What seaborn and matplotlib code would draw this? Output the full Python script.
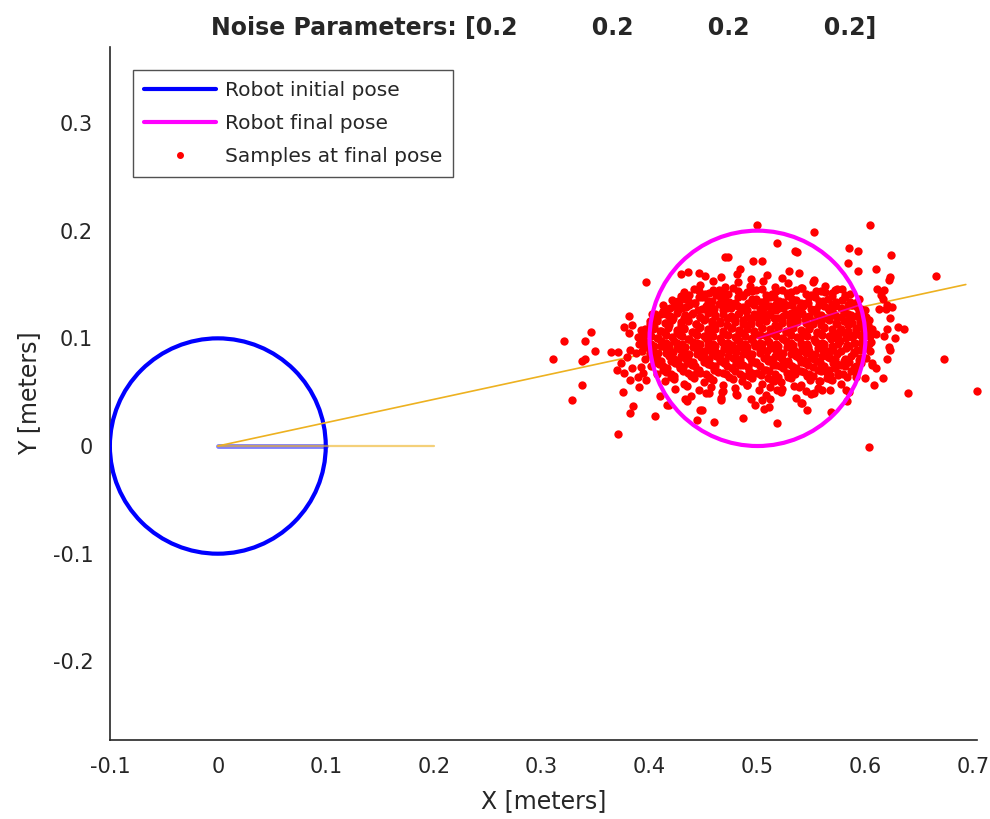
import matplotlib
matplotlib.use("Agg")
import matplotlib.pyplot as plt
from matplotlib.patches import Circle
from matplotlib.lines import Line2D
import pandas as pd
import seaborn as sns

# poses (x, y, radius) and headings
initial_pose = (0.0, 0.0, 0.1)
final_pose = (0.5, 0.1, 0.1)
initial_heading_x = [0.0, 0.1]
initial_heading_y = [0.0, 0.0]
motion_x = [0.0, 0.2]
motion_y = [0.0, 0.0]
path_x = [0.0, 0.693]
path_y = [0.0, 0.150]
final_heading_x = [0.5, 0.595]
final_heading_y = [0.1, 0.131]

noise_params = [0.2, 0.2, 0.2, 0.2]

# samples: scattered points first, then the dense core row by row
outer_samples = [
    (0.470, 0.176), (0.473, 0.176), (0.429, 0.160), (0.436, 0.162), (0.446, 0.161),
    (0.451, 0.158), (0.397, 0.152), (0.426, 0.135), (0.381, 0.121), (0.346, 0.106),
    (0.321, 0.098), (0.340, 0.098), (0.311, 0.081), (0.349, 0.088), (0.364, 0.087),
    (0.371, 0.087), (0.337, 0.079), (0.340, 0.081), (0.337, 0.057), (0.328, 0.043),
    (0.375, 0.050), (0.385, 0.037), (0.382, 0.031), (0.405, 0.028), (0.371, 0.011),
    (0.444, 0.024), (0.460, 0.022), (0.416, 0.038), (0.435, 0.042), (0.449, 0.033),
    (0.500, 0.205), (0.552, 0.199), (0.604, 0.205), (0.518, 0.189), (0.535, 0.181),
    (0.537, 0.180), (0.585, 0.184), (0.593, 0.181), (0.624, 0.177), (0.496, 0.172),
    (0.504, 0.172), (0.484, 0.164), (0.529, 0.163), (0.584, 0.170), (0.593, 0.163),
    (0.610, 0.164), (0.623, 0.157), (0.622, 0.154), (0.665, 0.158), (0.611, 0.146),
    (0.617, 0.145), (0.614, 0.140), (0.616, 0.137), (0.620, 0.131), (0.625, 0.129),
    (0.619, 0.127), (0.613, 0.127), (0.623, 0.119), (0.630, 0.111), (0.636, 0.109),
    (0.620, 0.109), (0.617, 0.102), (0.627, 0.100), (0.622, 0.092), (0.623, 0.089),
    (0.620, 0.081), (0.673, 0.081), (0.606, 0.075), (0.610, 0.072), (0.600, 0.063),
    (0.608, 0.057), (0.616, 0.063), (0.639, 0.049), (0.703, 0.051), (0.583, 0.042),
    (0.568, 0.032), (0.546, 0.033), (0.541, 0.040), (0.518, 0.021), (0.487, 0.026),
    (0.506, 0.034), (0.511, 0.036), (0.498, 0.038), (0.603, -0.001), (0.415, 0.123),
    (0.402, 0.123), (0.433, 0.044), (0.447, 0.033), (0.466, 0.043), (0.455, 0.049),
    (0.481, 0.047), (0.490, 0.057), (0.467, 0.050), (0.410, 0.046), (0.418, 0.038),
    (0.504, 0.043), (0.512, 0.044), (0.540, 0.040), (0.515, 0.060), (0.518, 0.052),
    (0.538, 0.055), (0.552, 0.049), (0.560, 0.052), (0.557, 0.060), (0.569, 0.061),
    (0.575, 0.066), (0.582, 0.052), (0.585, 0.050), (0.591, 0.064), (0.606, 0.077),
    (0.376, 0.111), (0.384, 0.112), (0.381, 0.105), (0.389, 0.101), (0.392, 0.108),
    (0.382, 0.089), (0.387, 0.086), (0.379, 0.083), (0.374, 0.077), (0.370, 0.071),
    (0.376, 0.068), (0.384, 0.072), (0.392, 0.073), (0.389, 0.064), (0.394, 0.068),
    (0.382, 0.061), (0.390, 0.055), (0.397, 0.061),
]

core_rows = [
    ([0.466, 0.481, 0.494, 0.509, 0.523, 0.538, 0.552],
     [0.157, 0.160, 0.155, 0.159, 0.156, 0.161, 0.154]),
    ([0.447, 0.459, 0.470, 0.482, 0.493, 0.505, 0.516, 0.528, 0.540, 0.551, 0.563, 0.574],
     [0.150, 0.153, 0.148, 0.152, 0.149, 0.153, 0.148, 0.151, 0.147, 0.152, 0.149, 0.146]),
    ([0.432, 0.441, 0.451, 0.459, 0.468, 0.477, 0.487, 0.495, 0.504, 0.513, 0.523, 0.531,
      0.541, 0.550, 0.559, 0.569, 0.578, 0.586],
     [0.143, 0.146, 0.141, 0.145, 0.142, 0.147, 0.140, 0.144, 0.146, 0.141, 0.145, 0.143,
      0.147, 0.140, 0.144, 0.142, 0.146, 0.141]),
    ([0.421, 0.429, 0.437, 0.446, 0.454, 0.462, 0.470, 0.479, 0.487, 0.495, 0.503, 0.512,
      0.520, 0.528, 0.536, 0.545, 0.553, 0.561, 0.569, 0.578, 0.586, 0.594],
     [0.136, 0.139, 0.134, 0.138, 0.135, 0.140, 0.136, 0.133, 0.139, 0.137, 0.134, 0.138,
      0.135, 0.139, 0.136, 0.133, 0.138, 0.135, 0.139, 0.136, 0.134, 0.137]),
    ([0.412, 0.419, 0.427, 0.434, 0.442, 0.449, 0.457, 0.464, 0.472, 0.479, 0.487, 0.494,
      0.502, 0.509, 0.517, 0.524, 0.532, 0.539, 0.547, 0.554, 0.562, 0.569, 0.577, 0.584,
      0.592, 0.600],
     [0.131, 0.128, 0.132, 0.129, 0.133, 0.127, 0.130, 0.132, 0.128, 0.131, 0.129, 0.133,
      0.127, 0.130, 0.132, 0.128, 0.131, 0.129, 0.133, 0.127, 0.130, 0.132, 0.128, 0.131,
      0.129, 0.126]),
    ([0.405, 0.412, 0.419, 0.426, 0.433, 0.440, 0.447, 0.454, 0.461, 0.468, 0.475, 0.482,
      0.489, 0.496, 0.503, 0.510, 0.517, 0.524, 0.531, 0.538, 0.545, 0.552, 0.559, 0.566,
      0.573, 0.580, 0.587, 0.594, 0.601],
     [0.123, 0.125, 0.121, 0.126, 0.122, 0.124, 0.120, 0.125, 0.122, 0.126, 0.121, 0.123,
      0.125, 0.120, 0.124, 0.122, 0.126, 0.121, 0.124, 0.123, 0.120, 0.125, 0.122, 0.126,
      0.121, 0.124, 0.122, 0.125, 0.120]),
    ([0.400, 0.407, 0.415, 0.422, 0.429, 0.436, 0.443, 0.451, 0.458, 0.465, 0.472, 0.479,
      0.487, 0.494, 0.501, 0.508, 0.515, 0.523, 0.530, 0.537, 0.544, 0.551, 0.559, 0.566,
      0.573, 0.580, 0.587, 0.595, 0.603],
     [0.116, 0.118, 0.114, 0.119, 0.115, 0.117, 0.113, 0.118, 0.116, 0.114, 0.119, 0.115,
      0.117, 0.113, 0.118, 0.116, 0.119, 0.114, 0.117, 0.115, 0.118, 0.113, 0.117, 0.119,
      0.114, 0.116, 0.118, 0.115, 0.117]),
    ([0.396, 0.404, 0.411, 0.418, 0.425, 0.432, 0.440, 0.447, 0.454, 0.461, 0.468, 0.476,
      0.483, 0.490, 0.497, 0.504, 0.512, 0.519, 0.526, 0.533, 0.540, 0.548, 0.555, 0.562,
      0.569, 0.576, 0.584, 0.591, 0.598, 0.606],
     [0.109, 0.111, 0.107, 0.112, 0.108, 0.110, 0.106, 0.111, 0.109, 0.112, 0.107, 0.110,
      0.108, 0.112, 0.106, 0.110, 0.109, 0.111, 0.107, 0.112, 0.108, 0.110, 0.106, 0.111,
      0.109, 0.107, 0.112, 0.108, 0.110, 0.109]),
    ([0.392, 0.399, 0.407, 0.414, 0.421, 0.428, 0.436, 0.443, 0.450, 0.457, 0.465, 0.472,
      0.479, 0.486, 0.494, 0.501, 0.508, 0.515, 0.523, 0.530, 0.537, 0.544, 0.552, 0.559,
      0.566, 0.573, 0.581, 0.588, 0.595, 0.603, 0.610],
     [0.102, 0.104, 0.100, 0.105, 0.101, 0.103, 0.099, 0.104, 0.102, 0.105, 0.100, 0.103,
      0.101, 0.105, 0.099, 0.103, 0.102, 0.104, 0.100, 0.105, 0.101, 0.103, 0.099, 0.104,
      0.102, 0.100, 0.105, 0.101, 0.103, 0.102, 0.104]),
    ([0.390, 0.397, 0.404, 0.411, 0.418, 0.425, 0.433, 0.440, 0.447, 0.454, 0.461, 0.468,
      0.476, 0.483, 0.490, 0.497, 0.504, 0.511, 0.519, 0.526, 0.533, 0.540, 0.547, 0.554,
      0.562, 0.569, 0.576, 0.583, 0.590, 0.597, 0.605],
     [0.095, 0.097, 0.093, 0.098, 0.094, 0.096, 0.092, 0.097, 0.095, 0.098, 0.093, 0.096,
      0.094, 0.098, 0.092, 0.096, 0.095, 0.097, 0.093, 0.098, 0.094, 0.096, 0.092, 0.097,
      0.095, 0.093, 0.098, 0.094, 0.096, 0.095, 0.097]),
    ([0.393, 0.400, 0.408, 0.415, 0.422, 0.429, 0.437, 0.444, 0.451, 0.458, 0.466, 0.473,
      0.480, 0.487, 0.495, 0.502, 0.509, 0.516, 0.524, 0.531, 0.538, 0.545, 0.553, 0.560,
      0.567, 0.574, 0.582, 0.589, 0.596, 0.604],
     [0.088, 0.090, 0.086, 0.091, 0.087, 0.089, 0.085, 0.090, 0.088, 0.091, 0.086, 0.089,
      0.087, 0.091, 0.085, 0.089, 0.088, 0.090, 0.086, 0.091, 0.087, 0.089, 0.085, 0.090,
      0.088, 0.086, 0.091, 0.087, 0.089, 0.088]),
    ([0.396, 0.404, 0.411, 0.418, 0.426, 0.433, 0.440, 0.448, 0.455, 0.462, 0.470, 0.477,
      0.484, 0.492, 0.499, 0.506, 0.514, 0.521, 0.528, 0.536, 0.543, 0.550, 0.558, 0.565,
      0.572, 0.580, 0.587, 0.594, 0.601],
     [0.081, 0.083, 0.079, 0.084, 0.080, 0.082, 0.078, 0.083, 0.081, 0.084, 0.079, 0.082,
      0.080, 0.084, 0.078, 0.082, 0.081, 0.083, 0.079, 0.084, 0.080, 0.082, 0.078, 0.083,
      0.081, 0.079, 0.084, 0.080, 0.082]),
    ([0.401, 0.409, 0.416, 0.424, 0.431, 0.439, 0.446, 0.454, 0.461, 0.469, 0.476, 0.484,
      0.491, 0.499, 0.506, 0.514, 0.521, 0.529, 0.536, 0.544, 0.551, 0.559, 0.566, 0.574,
      0.581, 0.589, 0.596],
     [0.074, 0.076, 0.072, 0.077, 0.073, 0.075, 0.071, 0.076, 0.074, 0.077, 0.072, 0.075,
      0.073, 0.077, 0.071, 0.075, 0.074, 0.076, 0.072, 0.077, 0.073, 0.075, 0.071, 0.076,
      0.074, 0.072, 0.077]),
    ([0.407, 0.415, 0.423, 0.431, 0.439, 0.447, 0.455, 0.463, 0.471, 0.479, 0.487, 0.495,
      0.503, 0.511, 0.519, 0.527, 0.535, 0.543, 0.551, 0.559, 0.567, 0.575, 0.583, 0.591],
     [0.067, 0.069, 0.065, 0.070, 0.066, 0.068, 0.064, 0.069, 0.067, 0.070, 0.065, 0.068,
      0.066, 0.070, 0.064, 0.068, 0.067, 0.069, 0.065, 0.070, 0.066, 0.068, 0.064, 0.069]),
    ([0.414, 0.423, 0.432, 0.441, 0.450, 0.459, 0.468, 0.477, 0.486, 0.495, 0.504, 0.513,
      0.522, 0.531, 0.540, 0.549, 0.558, 0.567, 0.577],
     [0.060, 0.062, 0.058, 0.063, 0.059, 0.061, 0.057, 0.062, 0.060, 0.063, 0.058, 0.061,
      0.059, 0.063, 0.057, 0.061, 0.060, 0.062, 0.058]),
    ([0.424, 0.435, 0.446, 0.457, 0.468, 0.479, 0.490, 0.501, 0.512, 0.523, 0.534, 0.545,
      0.556, 0.567],
     [0.053, 0.056, 0.052, 0.055, 0.051, 0.054, 0.057, 0.052, 0.055, 0.053, 0.056, 0.051,
      0.054, 0.052]),
    ([0.438, 0.452, 0.466, 0.480, 0.494, 0.508, 0.522, 0.536, 0.550],
     [0.046, 0.049, 0.045, 0.048, 0.044, 0.047, 0.050, 0.045, 0.048]),
]

# extra points between the rows, where the core is solid red
core_fill_rows = [
    ([0.437, 0.455, 0.473, 0.490, 0.508, 0.527, 0.545, 0.563, 0.581],
     [0.140, 0.142, 0.141, 0.143, 0.140, 0.142, 0.141, 0.143, 0.140]),
    ([0.425, 0.441, 0.458, 0.474, 0.491, 0.507, 0.524, 0.540, 0.557, 0.573, 0.590],
     [0.134, 0.133, 0.135, 0.134, 0.133, 0.135, 0.134, 0.133, 0.135, 0.134, 0.133]),
    ([0.416, 0.430, 0.445, 0.460, 0.475, 0.490, 0.505, 0.520, 0.535, 0.550, 0.565, 0.580,
      0.596],
     [0.127, 0.128, 0.126, 0.127, 0.128, 0.126, 0.127, 0.128, 0.126, 0.127, 0.128, 0.126,
      0.127]),
    ([0.404, 0.418, 0.432, 0.447, 0.461, 0.476, 0.490, 0.505, 0.519, 0.534, 0.548, 0.563,
      0.577, 0.592],
     [0.120, 0.121, 0.119, 0.120, 0.121, 0.119, 0.120, 0.121, 0.119, 0.120, 0.121, 0.119,
      0.120, 0.121]),
    ([0.400, 0.414, 0.429, 0.443, 0.458, 0.472, 0.487, 0.501, 0.516, 0.530, 0.545, 0.559,
      0.574, 0.588, 0.602],
     [0.113, 0.114, 0.112, 0.113, 0.114, 0.112, 0.113, 0.114, 0.112, 0.113, 0.114, 0.112,
      0.113, 0.114, 0.112]),
    ([0.396, 0.410, 0.425, 0.439, 0.454, 0.468, 0.483, 0.497, 0.512, 0.526, 0.541, 0.555,
      0.570, 0.584, 0.599],
     [0.106, 0.107, 0.105, 0.106, 0.107, 0.105, 0.106, 0.107, 0.105, 0.106, 0.107, 0.105,
      0.106, 0.107, 0.105]),
    ([0.394, 0.408, 0.423, 0.437, 0.452, 0.466, 0.481, 0.495, 0.510, 0.524, 0.539, 0.553,
      0.568, 0.582, 0.597],
     [0.099, 0.100, 0.098, 0.099, 0.100, 0.098, 0.099, 0.100, 0.098, 0.099, 0.100, 0.098,
      0.099, 0.100, 0.098]),
    ([0.396, 0.411, 0.425, 0.440, 0.454, 0.469, 0.483, 0.498, 0.512, 0.527, 0.541, 0.556,
      0.570, 0.585, 0.600],
     [0.092, 0.093, 0.091, 0.092, 0.093, 0.091, 0.092, 0.093, 0.091, 0.092, 0.093, 0.091,
      0.092, 0.093, 0.091]),
    ([0.400, 0.415, 0.429, 0.444, 0.458, 0.473, 0.487, 0.502, 0.516, 0.531, 0.545, 0.560,
      0.574, 0.589],
     [0.085, 0.086, 0.084, 0.085, 0.086, 0.084, 0.085, 0.086, 0.084, 0.085, 0.086, 0.084,
      0.085, 0.086]),
    ([0.405, 0.420, 0.435, 0.450, 0.465, 0.480, 0.495, 0.510, 0.525, 0.540, 0.555, 0.570,
      0.585],
     [0.078, 0.079, 0.077, 0.078, 0.079, 0.077, 0.078, 0.079, 0.077, 0.078, 0.079, 0.077,
      0.078]),
    ([0.412, 0.428, 0.444, 0.460, 0.476, 0.492, 0.508, 0.524, 0.540, 0.556, 0.572, 0.587],
     [0.071, 0.072, 0.070, 0.071, 0.072, 0.070, 0.071, 0.072, 0.070, 0.071, 0.072, 0.070]),
    ([0.420, 0.438, 0.456, 0.474, 0.492, 0.510, 0.528, 0.546, 0.564],
     [0.064, 0.065, 0.063, 0.064, 0.065, 0.063, 0.064, 0.065, 0.063]),
    # second fill layer, half way between the first one
    ([0.446, 0.464, 0.482, 0.499, 0.517, 0.536, 0.554, 0.572],
     [0.144, 0.145, 0.144, 0.145, 0.144, 0.145, 0.144, 0.145]),
    ([0.433, 0.449, 0.466, 0.482, 0.499, 0.515, 0.532, 0.548, 0.565, 0.581],
     [0.137, 0.138, 0.137, 0.138, 0.137, 0.138, 0.137, 0.138, 0.137, 0.138]),
    ([0.423, 0.437, 0.452, 0.467, 0.482, 0.497, 0.512, 0.527, 0.542, 0.557, 0.572, 0.588],
     [0.130, 0.131, 0.130, 0.131, 0.130, 0.131, 0.130, 0.131, 0.130, 0.131, 0.130, 0.131]),
    ([0.411, 0.425, 0.439, 0.454, 0.468, 0.483, 0.497, 0.512, 0.526, 0.541, 0.555, 0.570,
      0.584, 0.598],
     [0.123, 0.124, 0.123, 0.124, 0.123, 0.124, 0.123, 0.124, 0.123, 0.124, 0.123, 0.124,
      0.123, 0.124]),
    ([0.407, 0.421, 0.436, 0.450, 0.465, 0.479, 0.494, 0.508, 0.523, 0.537, 0.552, 0.566,
      0.581, 0.595],
     [0.116, 0.117, 0.116, 0.117, 0.116, 0.117, 0.116, 0.117, 0.116, 0.117, 0.116, 0.117,
      0.116, 0.117]),
    ([0.403, 0.417, 0.432, 0.446, 0.461, 0.475, 0.490, 0.504, 0.519, 0.533, 0.548, 0.562,
      0.577, 0.591, 0.604],
     [0.109, 0.110, 0.109, 0.110, 0.109, 0.110, 0.109, 0.110, 0.109, 0.110, 0.109, 0.110,
      0.109, 0.110, 0.109]),
    ([0.401, 0.415, 0.430, 0.444, 0.459, 0.473, 0.488, 0.502, 0.517, 0.531, 0.546, 0.560,
      0.575, 0.589, 0.604],
     [0.102, 0.103, 0.102, 0.103, 0.102, 0.103, 0.102, 0.103, 0.102, 0.103, 0.102, 0.103,
      0.102, 0.103, 0.102]),
    ([0.401, 0.415, 0.430, 0.444, 0.459, 0.473, 0.488, 0.502, 0.517, 0.531, 0.546, 0.560,
      0.575, 0.589, 0.603],
     [0.095, 0.096, 0.095, 0.096, 0.095, 0.096, 0.095, 0.096, 0.095, 0.096, 0.095, 0.096,
      0.095, 0.096, 0.095]),
    ([0.403, 0.418, 0.432, 0.447, 0.461, 0.476, 0.490, 0.505, 0.519, 0.534, 0.548, 0.563,
      0.577, 0.592],
     [0.088, 0.089, 0.088, 0.089, 0.088, 0.089, 0.088, 0.089, 0.088, 0.089, 0.088, 0.089,
      0.088, 0.089]),
    ([0.407, 0.422, 0.436, 0.451, 0.465, 0.480, 0.494, 0.509, 0.523, 0.538, 0.552, 0.567,
      0.581, 0.595],
     [0.081, 0.082, 0.081, 0.082, 0.081, 0.082, 0.081, 0.082, 0.081, 0.082, 0.081, 0.082,
      0.081, 0.082]),
    ([0.412, 0.427, 0.442, 0.457, 0.472, 0.487, 0.502, 0.517, 0.532, 0.547, 0.562, 0.577,
      0.591],
     [0.074, 0.075, 0.074, 0.075, 0.074, 0.075, 0.074, 0.075, 0.074, 0.075, 0.074, 0.075,
      0.074]),
    ([0.420, 0.436, 0.452, 0.468, 0.484, 0.500, 0.516, 0.532, 0.548, 0.564, 0.579],
     [0.067, 0.068, 0.067, 0.068, 0.067, 0.068, 0.067, 0.068, 0.067, 0.068, 0.067]),
]

xticks = [-0.1, 0, 0.1, 0.2, 0.3, 0.4, 0.5, 0.6, 0.7]
yticks = [-0.2, -0.1, 0, 0.1, 0.2, 0.3]

core = [p for xs, ys in core_rows + core_fill_rows for p in zip(xs, ys)]
samples = pd.DataFrame(outer_samples + core, columns=["x", "y"])

sns.set_style("white")
plt.rcParams["font.family"] = ["DejaVu Sans"]

blue = (0, 0, 1)
magenta = (1, 0, 1)
orange = (0.929, 0.694, 0.125)
grey = (0.15, 0.15, 0.15)

fig = plt.figure(figsize=(9.9, 8.19), dpi=100)
ax = fig.add_axes([0.111, 0.0965, 0.876, 0.846])

ax.add_patch(Circle(initial_pose[:2], initial_pose[2], fill=False, color=blue, lw=3, zorder=3))
sns.lineplot(x=initial_heading_x, y=initial_heading_y, sort=False, color=blue, alpha=0.5,
             lw=3.5, ax=ax, zorder=3)
sns.lineplot(x=motion_x, y=motion_y, sort=False, color=orange, alpha=0.6, lw=1.6, ax=ax, zorder=4)
sns.lineplot(x=path_x, y=path_y, sort=False, color=orange, lw=1.2, ax=ax, zorder=4)
sns.scatterplot(data=samples, x="x", y="y", color="red", s=36, linewidth=0, ax=ax,
                zorder=5, clip_on=False)
sns.lineplot(x=final_heading_x, y=final_heading_y, sort=False, color=magenta, alpha=0.6,
             lw=1.2, ax=ax, zorder=6)
ax.add_patch(Circle(final_pose[:2], final_pose[2], fill=False, color=magenta, lw=3, zorder=6))

ax.set_xlim(-0.1, 0.7035)
ax.set_ylim(-0.273, 0.3705)
ax.set_xticks(xticks)
ax.set_xticklabels([f"{t:g}" for t in xticks])
ax.set_yticks(yticks)
ax.set_yticklabels([f"{t:g}" for t in yticks])
ax.tick_params(direction="in", length=6, width=1, colors=grey, labelsize=15, pad=12)
for side in ["top", "right"]:
    ax.spines[side].set_visible(False)
for side in ["left", "bottom"]:
    ax.spines[side].set_color(grey)
    ax.spines[side].set_linewidth(1.2)

ax.set_xlabel("X [meters]", fontsize=17, color=grey, labelpad=9)
ax.set_ylabel("Y [meters]", fontsize=17, color=grey, labelpad=8)
gap = " " * 9
ax.set_title("Noise Parameters: [" + gap.join(f"{p:g}" for p in noise_params) + "]",
             fontsize=17, fontweight="bold", pad=9)

handles = [
    Line2D([], [], color=blue, lw=3),
    Line2D([], [], color=magenta, lw=3),
    Line2D([], [], color="red", lw=0, marker="o", markersize=4),
]
labels = ["Robot initial pose", "Robot final pose", "Samples at final pose"]
leg = ax.legend(handles, labels, loc="upper left", bbox_to_anchor=(0.0265, 0.967),
                borderaxespad=0, fontsize=14.5, handlelength=3.6, handletextpad=0.4,
                labelspacing=0.7, borderpad=0.55, fancybox=False, frameon=True)
leg.get_frame().set_edgecolor(grey)
leg.get_frame().set_linewidth(1)

fig.savefig("out.png", dpi=100)
